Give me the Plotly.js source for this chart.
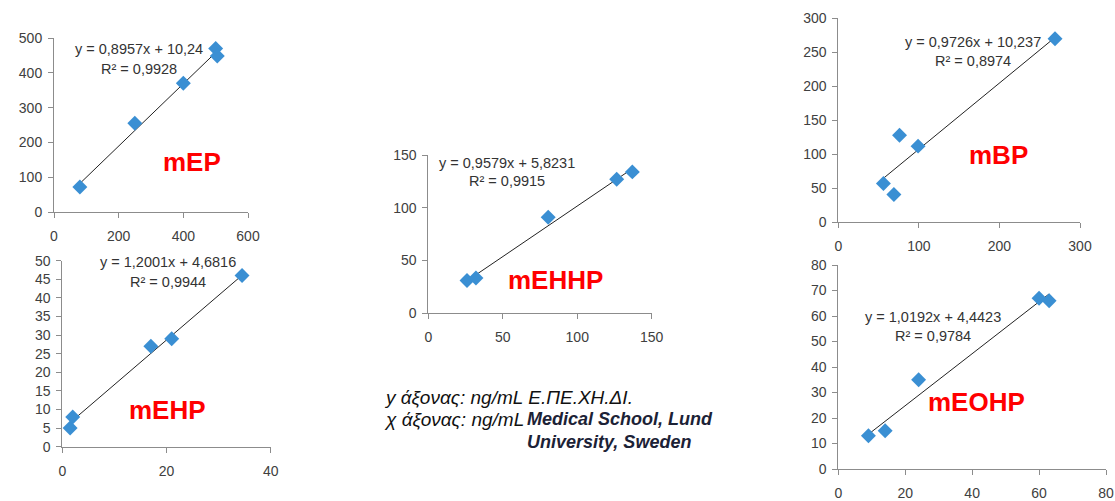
<!DOCTYPE html>
<html>
<head>
<meta charset="utf-8">
<script src="https://cdn.plot.ly/plotly-3.0.1.min.js"></script>
<style>html,body{margin:0;padding:0;background:#fff}#chart{width:1115px;height:501px}</style>
</head>
<body>
<div id="chart"></div>
<script>
// ---- data ----
const panelNames = ["mEP", "mEHP", "mEHHP", "mBP", "mEOHP"];
const mEP_x = [80, 250, 400, 500, 505];
const mEP_y = [72, 255, 370, 470, 448];
const mEHP_x = [1.5, 2, 17, 21, 34.5];
const mEHP_y = [5, 8, 27, 29, 46];
const mEHHP_x = [26, 32, 80.5, 126.5, 137];
const mEHHP_y = [31, 33.5, 91, 127, 134];
const mBP_x = [56, 69, 76, 99, 269];
const mBP_y = [57, 41, 128, 112, 270];
const mEOHP_x = [9, 14, 24, 60, 63];
const mEOHP_y = [13, 15, 35, 67, 66];
const slopes = [0.8957, 1.2001, 0.9579, 0.9726, 1.0192];
const intercepts = [10.24, 4.6816, 5.8231, 10.237, 4.4423];
const eqTexts = ["y = 0,8957x + 10,24", "y = 1,2001x + 4,6816", "y = 0,9579x + 5,8231", "y = 0,9726x + 10,237", "y = 1,0192x + 4,4423"];
const r2Texts = ["R² = 0,9928", "R² = 0,9944", "R² = 0,9915", "R² = 0,8974", "R² = 0,9784"];
const xMax = [600, 40, 150, 300, 80];
const xStep = [200, 20, 50, 100, 20];
const yMax = [500, 50, 150, 300, 80];
const yStep = [100, 5, 50, 50, 10];
const noteY = "y άξονας: ng/mL Ε.ΠΕ.ΧΗ.ΔΙ.";
const noteX = "χ άξονας: ng/mL";
const noteSrc = ["Medical School, Lund", "University, Sweden"];

// ---- layout geometry (pixels) ----
const W = 1115, H = 501;
const boxes = [ // [left, right, top, bottom]
  [54, 248, 38, 212],
  [62.3, 270.7, 260.7, 446.7],
  [428.3, 651.7, 155, 313.3],
  [838.3, 1080, 18.3, 222.3],
  [838.3, 1106, 265, 469]
];
const eqPos = [[139, 49, 69], [168, 262, 282], [507, 163, 181], [973, 42, 61], [933, 317, 336]];
const namePos = [[192, 162], [167, 410], [555, 280], [998, 155], [976, 402]];

const series = [[mEP_x, mEP_y], [mEHP_x, mEHP_y], [mEHHP_x, mEHHP_y], [mBP_x, mBP_y], [mEOHP_x, mEOHP_y]];
const traces = [];
const layout = {
  width: W, height: H, margin: {l: 0, r: 0, t: 0, b: 0},
  paper_bgcolor: "#fff", plot_bgcolor: "#fff", showlegend: false,
  font: {family: "Liberation Sans, Arial, sans-serif", color: "#404040"},
  annotations: []
};
const px = v => v / W, py = v => 1 - v / H;

series.forEach((s, i) => {
  const n = i === 0 ? "" : String(i + 1);
  const xs = s[0], ys = s[1];
  const x0 = Math.min(...xs), x1 = Math.max(...xs);
  traces.push({
    x: [x0, x1], y: [slopes[i] * x0 + intercepts[i], slopes[i] * x1 + intercepts[i]],
    xaxis: "x" + n, yaxis: "y" + n, mode: "lines",
    line: {color: "#222", width: 1}, hoverinfo: "skip"
  });
  traces.push({
    x: xs, y: ys, xaxis: "x" + n, yaxis: "y" + n, mode: "markers", cliponaxis: false,
    marker: {symbol: "diamond", size: 11.5, color: "#3a8fd3", line: {width: 0}}
  });
  const b = boxes[i];
  const axCommon = {
    showgrid: false, zeroline: false, showline: true, linecolor: "#8c8c8c", linewidth: 1,
    ticks: "outside", ticklen: 5, tickcolor: "#8c8c8c",
    tickfont: {size: 14, color: "#404040", family: "Liberation Sans, Arial, sans-serif"},
    fixedrange: true
  };
  layout["xaxis" + n] = Object.assign({}, axCommon, {
    domain: [px(b[0]), px(b[1])], range: [0, xMax[i]], dtick: xStep[i], tick0: 0,
    anchor: "y" + n, ticklabelstandoff: 6
  });
  layout["yaxis" + n] = Object.assign({}, axCommon, {
    domain: [py(b[3]), py(b[2])], range: [0, yMax[i]], dtick: yStep[i], tick0: 0,
    anchor: "x" + n, ticklabelstandoff: 3
  });
  const e = eqPos[i];
  layout.annotations.push({xref: "paper", yref: "paper", x: px(e[0]), y: py(e[1]), xanchor: "center", yanchor: "middle",
    text: eqTexts[i], showarrow: false, font: {size: 14.5, color: "#333"}});
  layout.annotations.push({xref: "paper", yref: "paper", x: px(e[0]), y: py(e[2]), xanchor: "center", yanchor: "middle",
    text: r2Texts[i], showarrow: false, font: {size: 14.5, color: "#333"}});
  const np = namePos[i];
  layout.annotations.push({xref: "paper", yref: "paper", x: px(np[0]), y: py(np[1]), xanchor: "center", yanchor: "middle",
    text: "<b>" + panelNames[i] + "</b>", showarrow: false, font: {size: 26, color: "#ff0000"}});
});

layout.annotations.push({xref: "paper", yref: "paper", x: px(382), y: py(397), xanchor: "left", yanchor: "middle",
  text: "<i>" + noteY + "</i>", showarrow: false, font: {size: 19, color: "#111"}});
layout.annotations.push({xref: "paper", yref: "paper", x: px(382), y: py(419), xanchor: "left", yanchor: "middle",
  text: "<i>" + noteX + "</i>", showarrow: false, font: {size: 19, color: "#111"}});
layout.annotations.push({xref: "paper", yref: "paper", x: px(525), y: py(430), xanchor: "left", yanchor: "middle", align: "left",
  text: "<b><i>" + noteSrc.join("<br>") + "</i></b>", showarrow: false, font: {size: 18, color: "#1c2236"}});

Plotly.newPlot("chart", traces, layout, {displayModeBar: false, staticPlot: true});
</script>
</body>
</html>
